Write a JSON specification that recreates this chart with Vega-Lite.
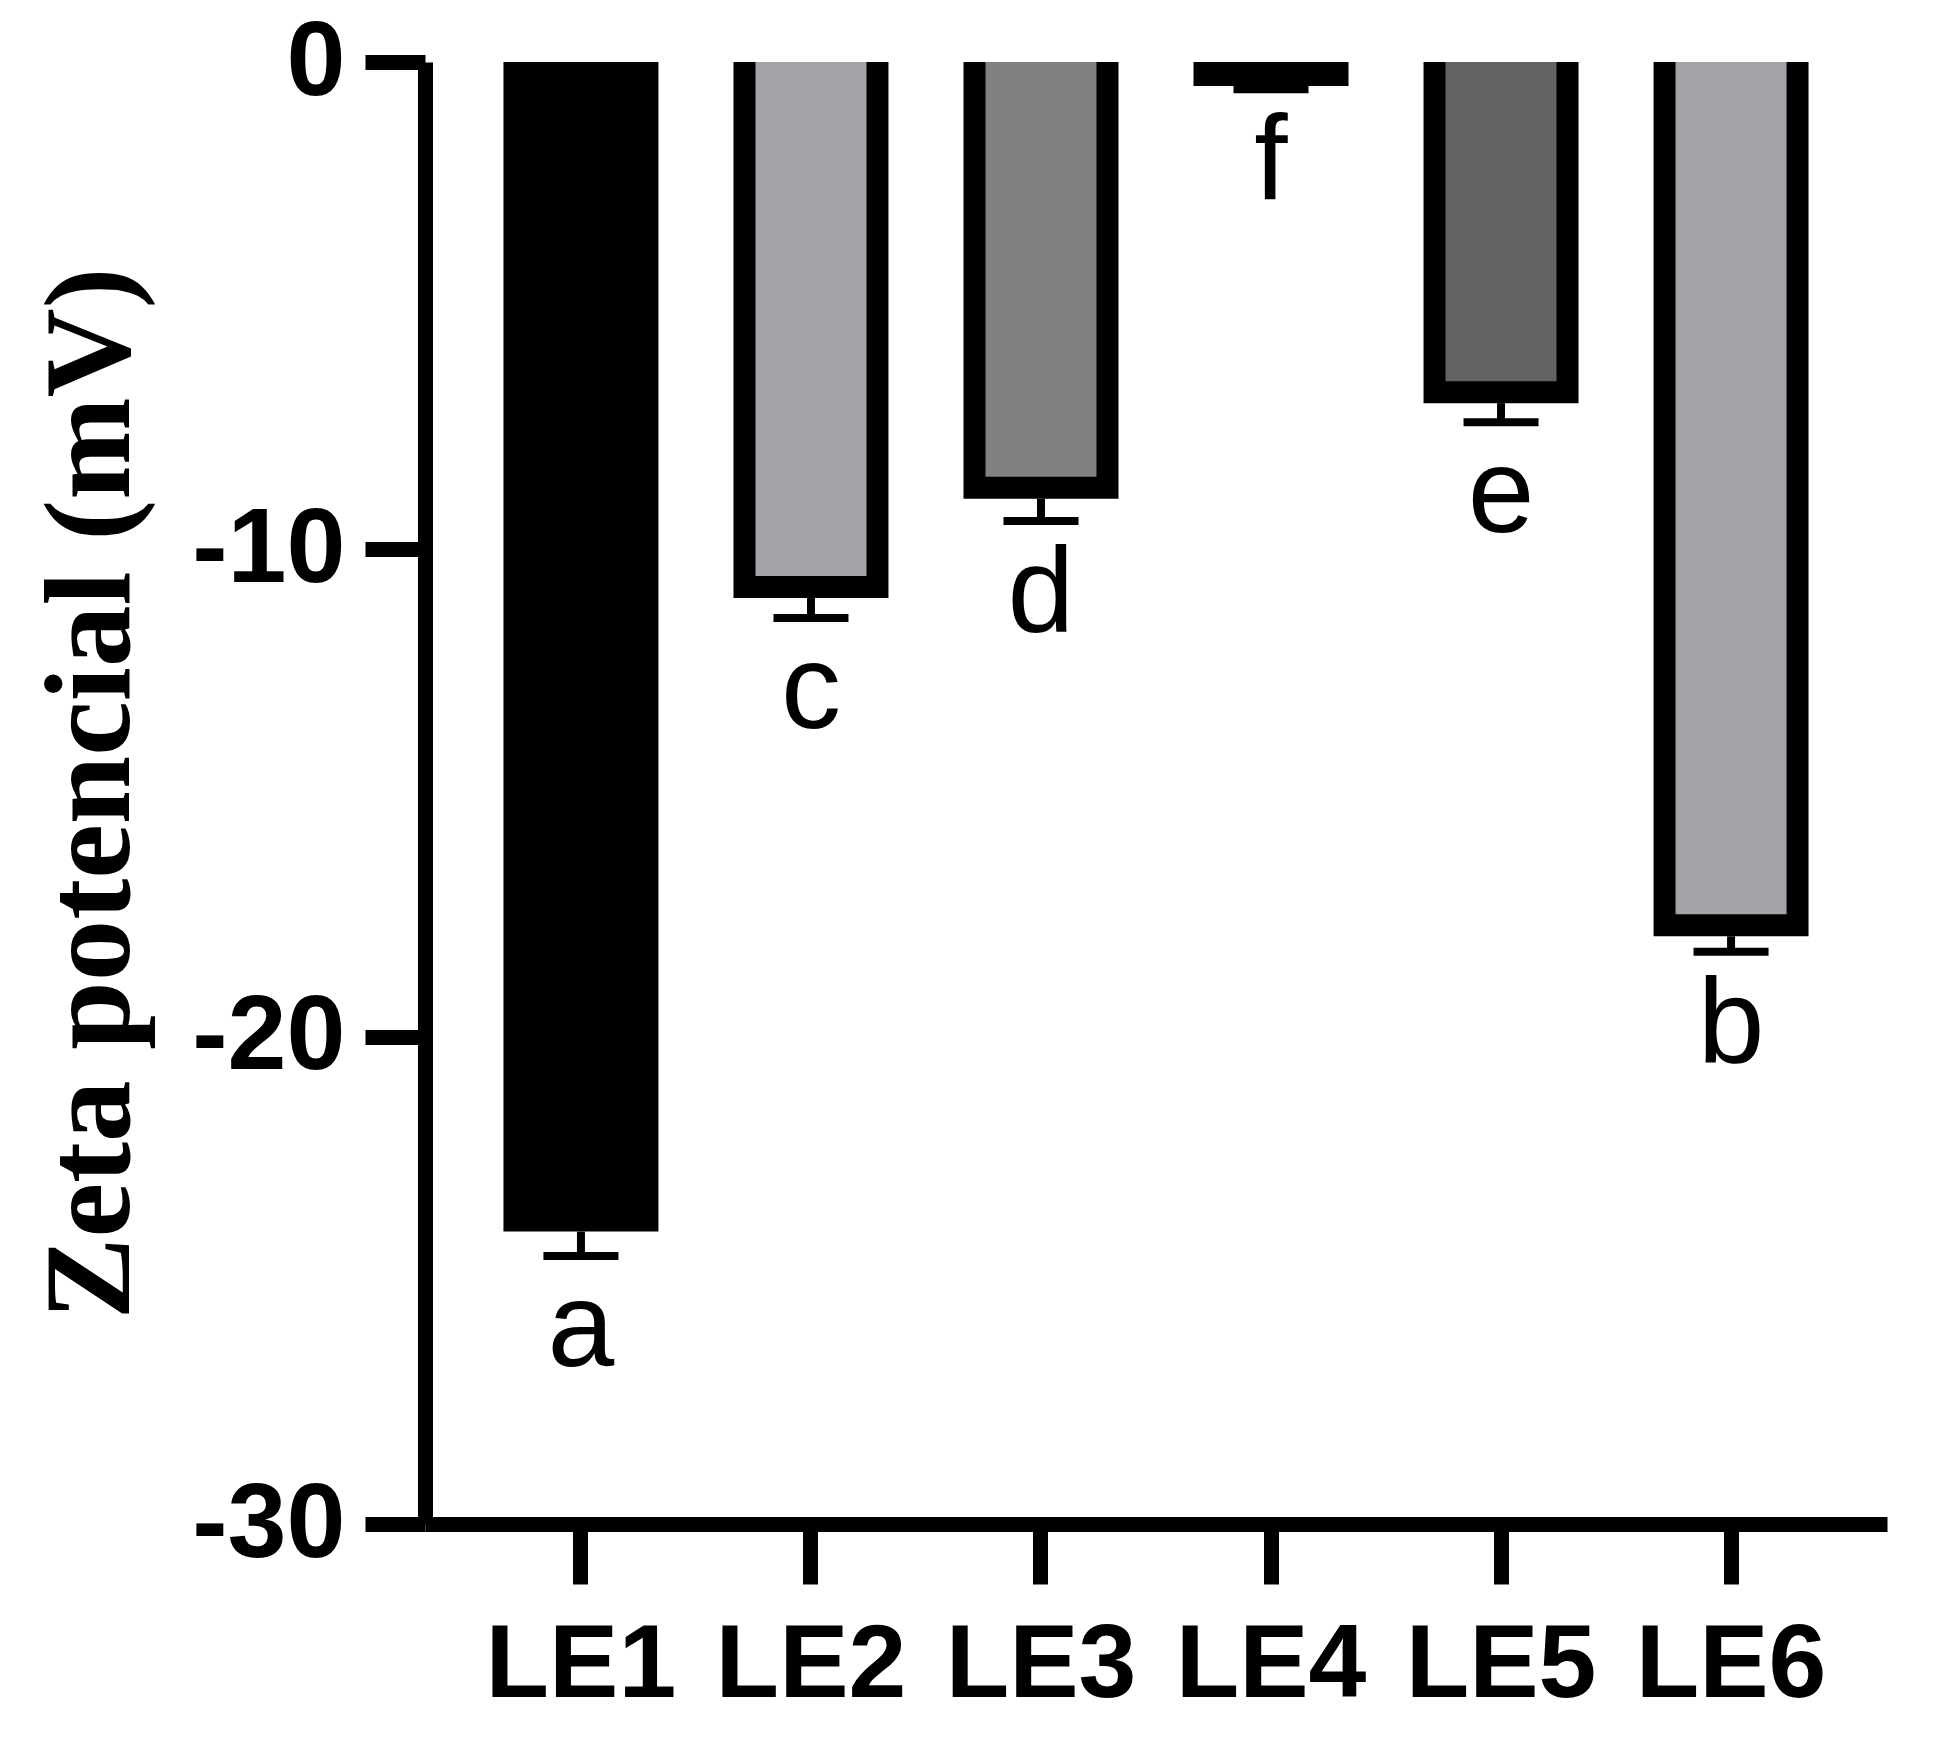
{
  "$schema": "https://vega.github.io/schema/vega-lite/v6.json",
  "autosize": {"type": "none"},
  "padding": {"left": 425, "top": 62, "right": 49, "bottom": 224},
  "width": 1462,
  "height": 1462,
  "background": "white",
  "config": {"view": {"stroke": null}},
  "data": {
    "values": [
      {"sample": "LE1", "zeta": -24.0, "lo": -24.5, "letter": "a"},
      {"sample": "LE2", "zeta": -11.0, "lo": -11.41, "letter": "c"},
      {"sample": "LE3", "zeta": -8.96, "lo": -9.42, "letter": "d"},
      {"sample": "LE4", "zeta": -0.49, "lo": -0.56, "letter": "f"},
      {"sample": "LE5", "zeta": -7.0, "lo": -7.39, "letter": "e"},
      {"sample": "LE6", "zeta": -17.94, "lo": -18.26, "letter": "b"}
    ]
  },
  "encoding": {
    "x": {
      "field": "sample",
      "type": "nominal",
      "sort": null,
      "scale": {"paddingInner": 0.4, "paddingOuter": 0.378},
      "axis": {
        "title": null,
        "labelAngle": 0,
        "labelLimit": 2000,
        "domainColor": "black",
        "domainWidth": 15,
        "domainCap": "butt",
        "tickColor": "black",
        "tickWidth": 15,
        "tickSize": 60,
        "labelFont": "Liberation Sans",
        "labelFontWeight": "bold",
        "labelFontSize": 104,
        "labelColor": "black",
        "labelPadding": 30,
        "grid": false,
        "zindex": 1
      }
    }
  },
  "layer": [
    {
      "mark": {"type": "bar", "width": 155, "color": "black"},
      "encoding": {
        "y": {
          "field": "zeta",
          "type": "quantitative",
          "scale": {"domain": [-30, 0], "nice": false},
          "axis": {
            "values": [0, -10, -20, -30],
            "labelExpr": "datum.value == 0 ? '0' : '-' + abs(datum.value)",
            "title": "Zeta potencial (mV)",
            "domainColor": "black",
            "domainWidth": 15,
            "domainCap": "butt",
            "tickColor": "black",
            "tickWidth": 15,
            "tickSize": 60,
            "labelFont": "Liberation Sans",
            "labelFontWeight": "bold",
            "labelFontSize": 106,
            "labelColor": "black",
            "labelPadding": 20,
            "labelLimit": 2000,
            "labelFlush": false,
            "labelOverlap": false,
            "labelBound": false,
            "titleFont": "Liberation Serif",
            "titleFontSize": 123,
            "titleFontWeight": "bold",
            "titleColor": "black",
            "titleBaseline": "bottom",
            "titleAngle": -90,
            "titleX": -271,
            "grid": false,
            "zindex": 1
          }
        },
        "y2": {"datum": 0}
      }
    },
    {
      "mark": {"type": "bar", "width": 111, "yOffset": -22},
      "encoding": {
        "y": {"field": "zeta", "type": "quantitative"},
        "y2": {"datum": 0},
        "color": {
          "field": "sample",
          "type": "nominal",
          "scale": {
            "domain": ["LE1", "LE2", "LE3", "LE4", "LE5", "LE6"],
            "range": ["#000000", "#a4a3a8", "#818181", "#000000", "#636363", "#a4a3a8"]
          },
          "legend": null
        }
      }
    },
    {
      "mark": {"type": "rule", "strokeWidth": 8, "color": "black"},
      "encoding": {
        "y": {"field": "zeta", "type": "quantitative"},
        "y2": {"field": "lo"}
      }
    },
    {
      "mark": {"type": "tick", "orient": "horizontal", "thickness": 8, "size": 75, "color": "black", "opacity": 1},
      "encoding": {
        "y": {"field": "lo", "type": "quantitative"}
      }
    },
    {
      "mark": {"type": "text", "dy": 110, "baseline": "alphabetic", "align": "center", "font": "Liberation Sans", "fontSize": 120, "color": "black"},
      "encoding": {
        "y": {"field": "lo", "type": "quantitative"},
        "text": {"field": "letter"}
      }
    },
    {
      "mark": {"type": "rule", "strokeWidth": 15, "color": "black"},
      "encoding": {
        "y": {"datum": 0}
      }
    }
  ]
}
